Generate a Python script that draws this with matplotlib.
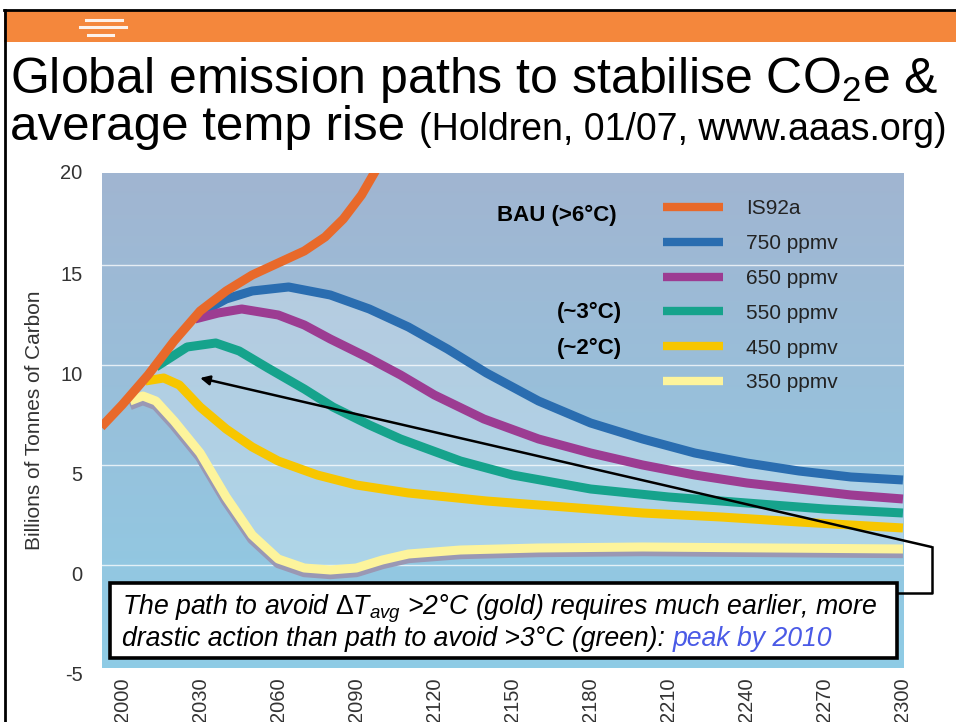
import numpy as np
import matplotlib
matplotlib.use("Agg")
import matplotlib.pyplot as plt
import matplotlib.transforms as mtransforms
from matplotlib.patches import Rectangle

plt.rcParams['font.family'] = ['Liberation Sans', 'DejaVu Sans']
plt.rcParams['mathtext.fontset'] = 'custom'
plt.rcParams['mathtext.rm'] = 'Liberation Sans'
plt.rcParams['mathtext.it'] = 'Liberation Sans:italic'
plt.rcParams['axes.unicode_minus'] = False

# emission paths, billions of tonnes of carbon
is92a_years = [1992, 2000, 2010, 2020, 2030, 2040, 2050, 2060, 2070, 2078, 2085, 2092, 2100]
is92a_vals = [6.9, 8.0, 9.5, 11.2, 12.7, 13.7, 14.5, 15.1, 15.7, 16.4, 17.3, 18.5, 20.3]

p750_years = [2030, 2040, 2050, 2064, 2080, 2095, 2110, 2125, 2140, 2160, 2180, 2200, 2220, 2240, 2260, 2280, 2300]
p750_vals = [12.6, 13.3, 13.7, 13.9, 13.5, 12.8, 11.9, 10.8, 9.6, 8.2, 7.1, 6.3, 5.6, 5.1, 4.7, 4.4, 4.25]

p650_years = [2028, 2037, 2046, 2060, 2070, 2080, 2094, 2107, 2120, 2139, 2160, 2180, 2200, 2220, 2240, 2260, 2280, 2300]
p650_vals = [12.3, 12.6, 12.8, 12.5, 12.0, 11.3, 10.4, 9.5, 8.5, 7.3, 6.3, 5.6, 5.0, 4.5, 4.1, 3.8, 3.5, 3.3]

p550_years = [2013, 2025, 2036, 2045, 2056, 2070, 2081, 2095, 2107, 2130, 2150, 2180, 2210, 2240, 2270, 2300]
p550_vals = [9.9, 10.9, 11.1, 10.7, 9.85, 8.8, 7.9, 7.0, 6.3, 5.2, 4.5, 3.8, 3.4, 3.1, 2.8, 2.6]

p450_years = [2009, 2016, 2022, 2030, 2040, 2050, 2060, 2075, 2090, 2110, 2140, 2170, 2200, 2230, 2260, 2300]
p450_vals = [9.2, 9.35, 9.0, 7.9, 6.8, 5.9, 5.2, 4.5, 4.0, 3.6, 3.2, 2.9, 2.6, 2.4, 2.15, 1.85]

p350_years = [2003, 2008, 2013, 2020, 2030, 2040, 2050, 2060, 2070, 2080, 2090, 2100, 2110, 2130, 2160, 2200, 2250, 2300]
p350_vals = [8.2, 8.45, 8.2, 7.2, 5.6, 3.4, 1.5, 0.3, -0.15, -0.25, -0.15, 0.25, 0.55, 0.75, 0.85, 0.9, 0.85, 0.8]

labels = ['IS92a', '750 ppmv', '650 ppmv', '550 ppmv', '450 ppmv', '350 ppmv']
colors = ['#e8692a', '#2a6db0', '#9c3c92', '#16a38c', '#f7c600', '#fdf49c']

x_ticks = list(range(2000, 2301, 30))
y_ticks = [-5, 0, 5, 10, 15]
x_lim = (1992.3, 2300.4)
y_lim = (-5.15, 19.6)

fig = plt.figure(figsize=(9.56, 7.22), dpi=100)
fig.patch.set_facecolor('white')

# slide header band and frame
fig.patches.append(Rectangle((0.004, 0.942), 0.996, 0.044, transform=fig.transFigure,
                             facecolor='#f4873c', edgecolor='none', zorder=0))
fig.add_artist(plt.Line2D([0.004, 1.0], [0.986, 0.986], transform=fig.transFigure, color='black', lw=2))
fig.add_artist(plt.Line2D([0.005, 0.005], [0.0, 0.986], transform=fig.transFigure, color='black', lw=2))
for yy, x0, x1 in [(0.972, 0.090, 0.128), (0.962, 0.084, 0.132), (0.951, 0.092, 0.118)]:
    fig.add_artist(plt.Line2D([x0, x1], [yy, yy], transform=fig.transFigure, color='white', lw=2.2, alpha=0.9))

# title
t1 = fig.text(0.010, 0.871, 'Global emission paths to stabilise CO$_2$e &', fontsize=36, va='baseline')
t2 = fig.text(0.010, 0.806, 'average temp rise', fontsize=35.5, va='baseline')

ax = fig.add_axes([0.1067, 0.0748, 0.8389, 0.6856])

# background gradient: grey-blue at top, cyan at bottom
grad = np.linspace(0, 1, 256).reshape(-1, 1, 1)
top = np.array([0.63, 0.71, 0.82])
bot = np.array([0.56, 0.80, 0.90])
img = (top + (bot - top) * grad) * np.ones((1, 2, 1))
ax.imshow(img, extent=[x_lim[0], x_lim[1], y_lim[0], y_lim[1]], aspect='auto', zorder=0,
          origin='upper')

# lighter glow under the stabilisation paths
x_fill = np.array(sorted(set(p350_years) | set(p750_years)), dtype=float)
upper = np.where(x_fill < 2030, np.interp(x_fill, is92a_years, is92a_vals),
                 np.interp(x_fill, p750_years, p750_vals))
lower = np.interp(x_fill, p350_years, p350_vals)
ax.fill_between(x_fill, lower, upper, color='white', alpha=0.25, lw=0, zorder=1)

for yv in [0, 5, 10, 15]:
    ax.axhline(yv, color='white', lw=1, alpha=0.75, zorder=1.5)

lw = 6.5
shadow = mtransforms.offset_copy(ax.transData, fig=fig, y=-4, units='dots')
ax.plot(p350_years, p350_vals, color='#9a98b4', lw=lw + 1, transform=shadow, zorder=2,
        solid_capstyle='butt')
series = [(p750_years, p750_vals), (p650_years, p650_vals), (p550_years, p550_vals),
          (p450_years, p450_vals), (p350_years, p350_vals)]
handles = []
for (xs, ys), c, lab, z in zip(series, colors[1:], labels[1:], [3, 4, 5, 6, 7]):
    h, = ax.plot(xs, ys, color=c, lw=lw, zorder=z, solid_capstyle='butt',
                 solid_joinstyle='round', label=lab)
    handles.append(h)
h0, = ax.plot(is92a_years, is92a_vals, color=colors[0], lw=lw, zorder=8, solid_capstyle='butt',
              solid_joinstyle='round', label=labels[0])
handles = [h0] + handles

leg = ax.legend(handles=handles, loc='upper left', bbox_to_anchor=(0.70, 0.947), frameon=False,
                fontsize=15, labelspacing=0.76, handlelength=2.85, handletextpad=1.1,
                borderaxespad=0, borderpad=0)
for txt, hl in zip(leg.get_texts(), leg.get_lines()):
    txt.set_color('#222222')
    hl.set_linewidth(6)

ax.text(0.642, 0.915, 'BAU (>6°C)', transform=ax.transAxes, fontsize=16, fontweight='bold',
        ha='right', va='center')
ax.text(0.648, 0.719, '(~3°C)', transform=ax.transAxes, fontsize=16, fontweight='bold',
        ha='right', va='center')
ax.text(0.648, 0.646, '(~2°C)', transform=ax.transAxes, fontsize=16, fontweight='bold',
        ha='right', va='center')

for s in ax.spines.values():
    s.set_visible(False)
ax.set_xticks(x_ticks)
ax.set_yticks(y_ticks)
ax.set_xlim(*x_lim)
ax.set_ylim(*y_lim)
ax.tick_params(length=0, labelsize=14.5, labelcolor='#333333')
ax.tick_params(axis='x', rotation=90, pad=7)
ax.tick_params(axis='y', pad=14)
lab_shift = mtransforms.ScaledTranslation(0, -9 / 100, fig.dpi_scale_trans)
for lab in ax.get_yticklabels():
    lab.set_transform(lab.get_transform() + lab_shift)
# top label sits just above the plotting area
ax.text(0, 20, '20', transform=ax.get_yaxis_transform() + lab_shift + mtransforms.ScaledTranslation(-14 / 72, 0, fig.dpi_scale_trans),
        fontsize=14.5, color='#333333', ha='right', va='center', clip_on=False)
ax.set_ylabel('Billions of Tonnes of Carbon', fontsize=15, color='#333333', labelpad=12)

# arrow and bracket to the note
ax.annotate('', xy=(2030, 9.35), xytext=(2311, 0.9), xycoords='data', textcoords='data',
            arrowprops=dict(arrowstyle='-|>', color='black', lw=1.8, mutation_scale=14,
                            shrinkA=0, shrinkB=0), annotation_clip=False, zorder=10)
ax.plot([2311, 2311, 2297], [0.9, -1.4, -1.4], color='black', lw=1.8, clip_on=False, zorder=10)

ax.add_patch(Rectangle((0.010, 0.020), 0.981, 0.152, transform=ax.transAxes, facecolor='white',
                       edgecolor='black', lw=2.6, zorder=11))
fs_note = 19.2
n1 = ax.text(0.025, 0.109, r'The path to avoid $\Delta T_{avg}$ >2°C (gold) requires much earlier, more',
             transform=ax.transAxes, fontsize=fs_note, style='italic', va='baseline', zorder=12)
n2 = ax.text(0.025, 0.044, 'drastic action than path to avoid >3°C (green): ',
             transform=ax.transAxes, fontsize=fs_note, style='italic', va='baseline', zorder=12)

fig.canvas.draw()
r = fig.canvas.get_renderer()
e2 = n2.get_window_extent(r)
xa = ax.transAxes.inverted().transform((e2.x1, e2.y0))[0]
ax.text(xa, 0.044, 'peak by 2010', transform=ax.transAxes, fontsize=fs_note, style='italic',
        va='baseline', color='#4a5ae6', zorder=12)
et = t2.get_window_extent(r)
fx = fig.transFigure.inverted().transform((et.x1 + 14, et.y0))[0]
fig.text(fx, 0.806, '(Holdren, 01/07, www.aaas.org)', fontsize=27, va='baseline')

fig.savefig('out.png', dpi=100)
